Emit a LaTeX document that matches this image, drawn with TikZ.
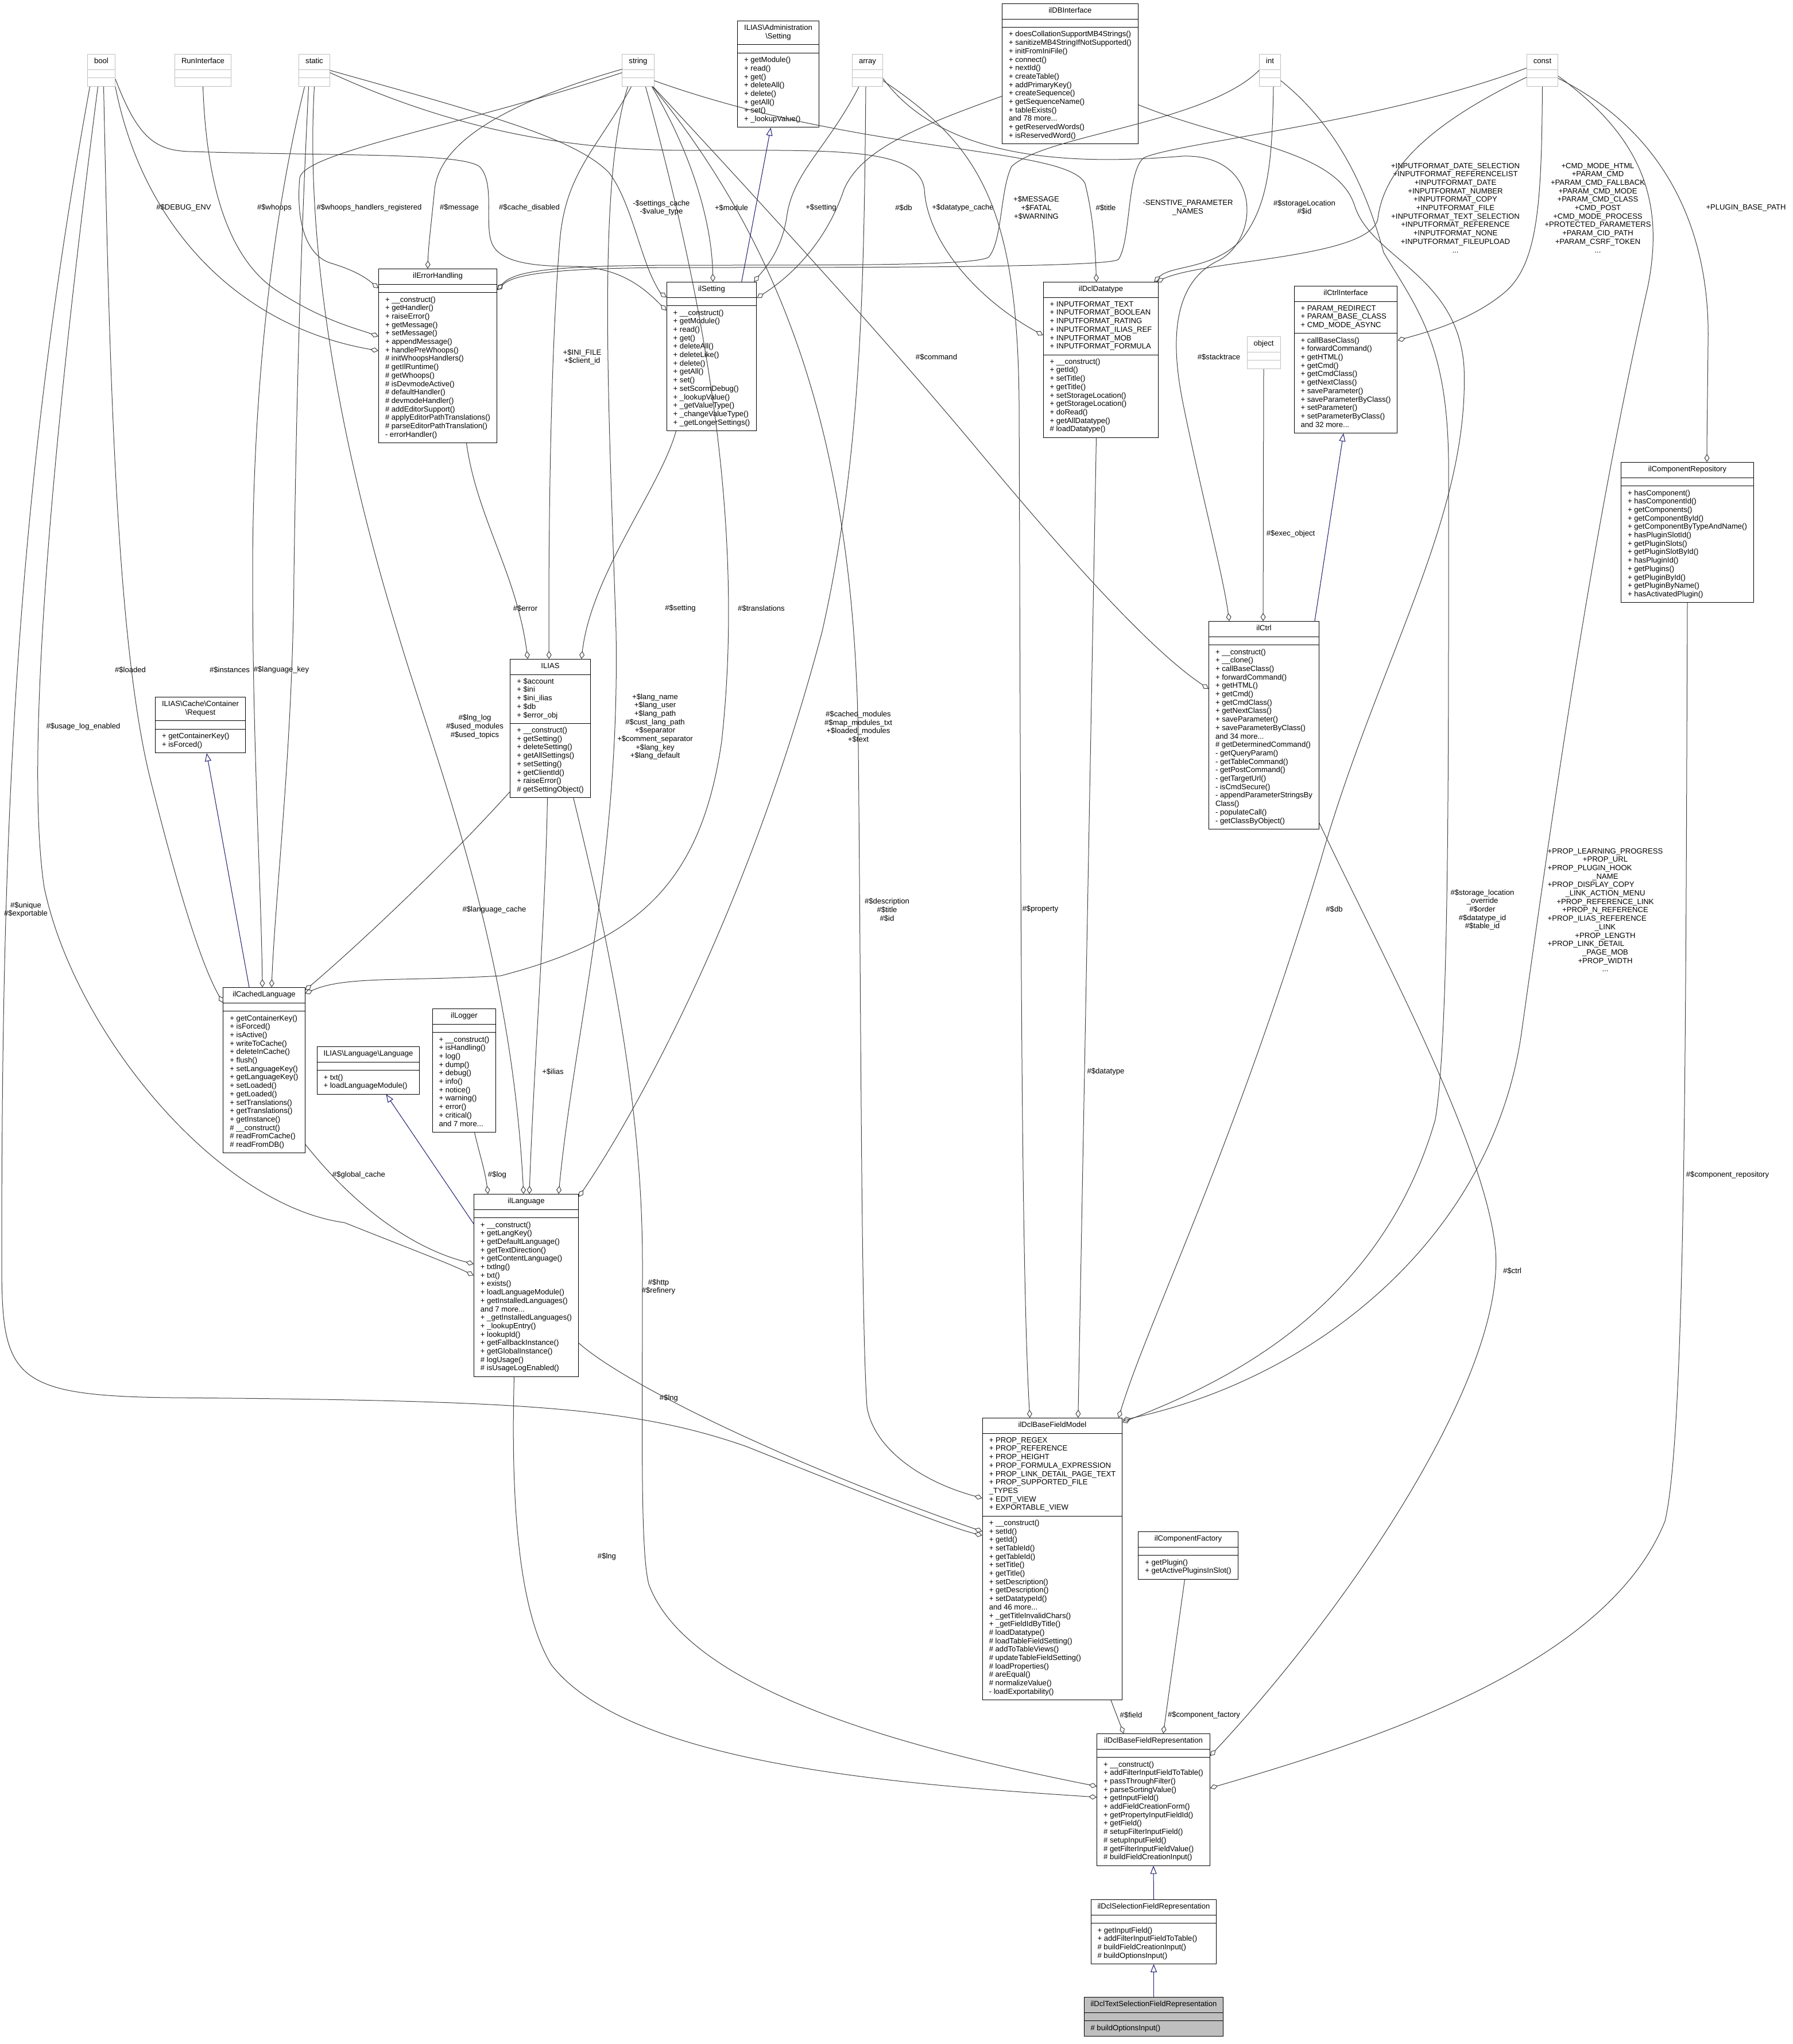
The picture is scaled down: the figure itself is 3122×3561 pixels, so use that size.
\documentclass[tikz,border=0pt]{standalone}
\usepackage{fontspec}
\setmainfont{Liberation Sans}
\usepackage{xcolor}
\definecolor{edgegrey}{RGB}{64,64,64}
\definecolor{typegrey}{RGB}{191,191,191}
\definecolor{maingrey}{RGB}{191,191,191}
\definecolor{inhblue}{RGB}{25,25,112}
\usepackage{tikz}
\usetikzlibrary{
    shapes.multipart,
    arrows.meta
}
\newcommand{\dxfont}{\fontsize{13.1}{14.7}\selectfont}
\newcommand{\members}[1]{\begin{tabular}{@{}l@{}}#1\end{tabular}}
\newcommand{\cname}[1]{\begin{tabular}{@{}c@{}}#1\end{tabular}}
\newcommand{\lline}[1]{\multicolumn{1}{@{}l@{}}{#1}}

\begin{document}
\begin{tikzpicture}[x=1pt, y=-1pt,
        cls/.style={rectangle split, rectangle split parts=3, rectangle split part align={center,left,left}, draw=black, fill=white, line width=1pt, inner xsep=11.5pt, inner ysep=5.4pt, anchor=north, font=\dxfont},
        typebox/.style={cls, draw=typegrey},
        mainbox/.style={cls, fill=maingrey},
        lab/.style={font=\dxfont, align=center, inner sep=0pt},
        use/.style={draw=edgegrey, line width=1pt, -{Diamond[open, length=14pt, width=9pt]}},
        inh/.style={draw=inhblue, line width=1pt, -{Triangle[open, length=14pt, width=11pt]}}
    ]
        \useasboundingbox (0,0) rectangle (3122,3561);

        \node[typebox] (bool) at (176.5,94) {\cname{bool}\nodepart{two}\members{}\nodepart{three}\members{}};
        \node[typebox] (runinterface) at (353.5,94) {\cname{RunInterface}\nodepart{two}\members{}\nodepart{three}\members{}};
        \node[typebox] (static) at (547.5,94) {\cname{static}\nodepart{two}\members{}\nodepart{three}\members{}};
        \node[typebox] (string) at (1111.5,94) {\cname{string}\nodepart{two}\members{}\nodepart{three}\members{}};
        \node[typebox] (array) at (1511,94) {\cname{array}\nodepart{two}\members{}\nodepart{three}\members{}};
        \node[typebox] (int) at (2212,94) {\cname{int}\nodepart{two}\members{}\nodepart{three}\members{}};
        \node[typebox] (const) at (2686.5,94) {\cname{const}\nodepart{two}\members{}\nodepart{three}\members{}};
        \node[typebox] (object) at (2201,586) {\cname{object}\nodepart{two}\members{}\nodepart{three}\members{}};

        \node[cls] (adminsetting) at (1355.5,36) {\cname{ILIAS\textbackslash Administration\\\textbackslash Setting}\nodepart{two}\members{}\nodepart{three}\members{+ getModule()\\+ read()\\+ get()\\+ deleteAll()\\+ delete()\\+ getAll()\\+ set()\\+ \_lookupValue()}};
        \node[cls] (dbinterface) at (1864,6) {\cname{ilDBInterface}\nodepart{two}\members{}\nodepart{three}\members{+ doesCollationSupportMB4Strings()\\+ sanitizeMB4StringIfNotSupported()\\+ initFromIniFile()\\+ connect()\\+ nextId()\\+ createTable()\\+ addPrimaryKey()\\+ createSequence()\\+ getSequenceName()\\+ tableExists()\\and 78 more...\\+ getReservedWords()\\+ isReservedWord()}};
        \node[cls] (errorhandling) at (762.5,468) {\cname{ilErrorHandling}\nodepart{two}\members{}\nodepart{three}\members{+ \_\_construct()\\+ getHandler()\\+ raiseError()\\+ getMessage()\\+ setMessage()\\+ appendMessage()\\+ handlePreWhoops()\\\# initWhoopsHandlers()\\\# getIlRuntime()\\\# getWhoops()\\\# isDevmodeActive()\\\# defaultHandler()\\\# devmodeHandler()\\\# addEditorSupport()\\\# applyEditorPathTranslations()\\\# parseEditorPathTranslation()\\- errorHandler()}};
        \node[cls] (setting) at (1239.5,491) {\cname{ilSetting}\nodepart{two}\members{}\nodepart{three}\members{+ \_\_construct()\\+ getModule()\\+ read()\\+ get()\\+ deleteAll()\\+ deleteLike()\\+ delete()\\+ getAll()\\+ set()\\+ setScormDebug()\\+ \_lookupValue()\\+ \_getValueType()\\+ \_changeValueType()\\+ \_getLongerSettings()}};
        \node[cls] (datatype) at (1917.5,491) {\cname{ilDclDatatype}\nodepart{two}\members{+ INPUTFORMAT\_TEXT\\+ INPUTFORMAT\_BOOLEAN\\+ INPUTFORMAT\_RATING\\+ INPUTFORMAT\_ILIAS\_REF\\+ INPUTFORMAT\_MOB\\+ INPUTFORMAT\_FORMULA}\nodepart{three}\members{+ \_\_construct()\\+ getId()\\+ setTitle()\\+ getTitle()\\+ setStorageLocation()\\+ getStorageLocation()\\+ doRead()\\+ getAllDatatype()\\\# loadDatatype()}};
        \node[cls] (ctrlinterface) at (2344,498) {\cname{ilCtrlInterface}\nodepart{two}\members{+ PARAM\_REDIRECT\\+ PARAM\_BASE\_CLASS\\+ CMD\_MODE\_ASYNC}\nodepart{three}\members{+ callBaseClass()\\+ forwardCommand()\\+ getHTML()\\+ getCmd()\\+ getCmdClass()\\+ getNextClass()\\+ saveParameter()\\+ saveParameterByClass()\\+ setParameter()\\+ setParameterByClass()\\and 32 more...}};
        \node[cls] (componentrepo) at (2939,805) {\cname{ilComponentRepository}\nodepart{two}\members{}\nodepart{three}\members{+ hasComponent()\\+ hasComponentId()\\+ getComponents()\\+ getComponentById()\\+ getComponentByTypeAndName()\\+ hasPluginSlotId()\\+ getPluginSlots()\\+ getPluginSlotById()\\+ hasPluginId()\\+ getPlugins()\\+ getPluginById()\\+ getPluginByName()\\+ hasActivatedPlugin()}};
        \node[cls] (ctrl) at (2201.5,1082) {\cname{ilCtrl}\nodepart{two}\members{}\nodepart{three}\members{+ \_\_construct()\\+ \_\_clone()\\+ callBaseClass()\\+ forwardCommand()\\+ getHTML()\\+ getCmd()\\+ getCmdClass()\\+ getNextClass()\\+ saveParameter()\\+ saveParameterByClass()\\and 34 more...\\\# getDeterminedCommand()\\- getQueryParam()\\- getTableCommand()\\- getPostCommand()\\- getTargetUrl()\\- isCmdSecure()\\- appendParameterStringsBy\\Class()\\- populateCall()\\- getClassByObject()}};
        \node[cls] (ilias) at (958.5,1148) {\cname{ILIAS}\nodepart{two}\members{+ \$account\\+ \$ini\\+ \$ini\_ilias\\+ \$db\\+ \$error\_obj}\nodepart{three}\members{+ \_\_construct()\\+ getSetting()\\+ deleteSetting()\\+ getAllSettings()\\+ setSetting()\\+ getClientId()\\+ raiseError()\\\# getSettingObject()}};
        \node[cls] (cacherequest) at (349,1214) {\cname{ILIAS\textbackslash Cache\textbackslash Container\\\textbackslash Request}\nodepart{two}\members{}\nodepart{three}\members{+ getContainerKey()\\+ isForced()}};
        \node[cls] (cachedlang) at (460,1720) {\cname{ilCachedLanguage}\nodepart{two}\members{}\nodepart{three}\members{+ getContainerKey()\\+ isForced()\\+ isActive()\\+ writeToCache()\\+ deleteInCache()\\+ flush()\\+ setLanguageKey()\\+ getLanguageKey()\\+ setLoaded()\\+ getLoaded()\\+ setTranslations()\\+ getTranslations()\\+ getInstance()\\\# \_\_construct()\\\# readFromCache()\\\# readFromDB()}};
        \node[cls] (langiface) at (641.5,1823) {\cname{ILIAS\textbackslash Language\textbackslash Language}\nodepart{two}\members{}\nodepart{three}\members{+ txt()\\+ loadLanguageModule()}};
        \node[cls] (logger) at (808.5,1757) {\cname{ilLogger}\nodepart{two}\members{}\nodepart{three}\members{+ \_\_construct()\\+ isHandling()\\+ log()\\+ dump()\\+ debug()\\+ info()\\+ notice()\\+ warning()\\+ error()\\+ critical()\\and 7 more...}};
        \node[cls] (language) at (916.5,2080) {\cname{ilLanguage}\nodepart{two}\members{}\nodepart{three}\members{+ \_\_construct()\\+ getLangKey()\\+ getDefaultLanguage()\\+ getTextDirection()\\+ getContentLanguage()\\+ txtlng()\\+ txt()\\+ exists()\\+ loadLanguageModule()\\+ getInstalledLanguages()\\and 7 more...\\+ \_getInstalledLanguages()\\+ \_lookupEntry()\\+ lookupId()\\+ getFallbackInstance()\\+ getGlobalInstance()\\\# logUsage()\\\# isUsageLogEnabled()}};
        \node[cls] (basefieldmodel) at (1833,2470) {\cname{ilDclBaseFieldModel}\nodepart{two}\members{+ PROP\_REGEX\\+ PROP\_REFERENCE\\+ PROP\_HEIGHT\\+ PROP\_FORMULA\_EXPRESSION\\+ PROP\_LINK\_DETAIL\_PAGE\_TEXT\\+ PROP\_SUPPORTED\_FILE\\\_TYPES\\+ EDIT\_VIEW\\+ EXPORTABLE\_VIEW}\nodepart{three}\members{+ \_\_construct()\\+ setId()\\+ getId()\\+ setTableId()\\+ getTableId()\\+ setTitle()\\+ getTitle()\\+ setDescription()\\+ getDescription()\\+ setDatatypeId()\\and 46 more...\\+ \_getTitleInvalidChars()\\+ \_getFieldIdByTitle()\\\# loadDatatype()\\\# loadTableFieldSetting()\\\# addToTableViews()\\\# updateTableFieldSetting()\\\# loadProperties()\\\# areEqual()\\\# normalizeValue()\\- loadExportability()}};
        \node[cls] (componentfactory) at (2069.5,2668) {\cname{ilComponentFactory}\nodepart{two}\members{}\nodepart{three}\members{+ getPlugin()\\+ getActivePluginsInSlot()}};
        \node[cls] (baserepr) at (2009,3020) {\cname{ilDclBaseFieldRepresentation}\nodepart{two}\members{}\nodepart{three}\members{+ \_\_construct()\\+ addFilterInputFieldToTable()\\+ passThroughFilter()\\+ parseSortingValue()\\+ getInputField()\\+ addFieldCreationForm()\\+ getPropertyInputFieldId()\\+ getField()\\\# setupFilterInputField()\\\# setupInputField()\\\# getFilterInputFieldValue()\\\# buildFieldCreationInput()}};
        \node[cls] (selectionrepr) at (2009.5,3309) {\cname{ilDclSelectionFieldRepresentation}\nodepart{two}\members{}\nodepart{three}\members{+ getInputField()\\+ addFilterInputFieldToTable()\\\# buildFieldCreationInput()\\\# buildOptionsInput()}};
        \node[mainbox] (textselrepr) at (2009.5,3479) {\cname{ilDclTextSelectionFieldRepresentation}\nodepart{two}\members{}\nodepart{three}\members{\# buildOptionsInput()}};

        \node[lab] (lDebugEnv) at (320,362) {\#\$DEBUG\_ENV};
        \node[lab] (lWhoops) at (478,362) {\#\$whoops};
        \node[lab] (lWhoopsReg) at (643,362) {\#\$whoops\_handlers\_registered};
        \node[lab] (lMessage) at (800,362) {\#\$message};
        \node[lab] (lCacheDisabled) at (922,362) {\#\$cache\_disabled};
        \node[lab] (lSettingsCache) at (1152,362) {-\$settings\_cache\\-\$value\_type};
        \node[lab] (lModule) at (1274,362) {+\$module};
        \node[lab] (lSettingArr) at (1430,362) {+\$setting};
        \node[lab] (lDbSetting) at (1574,362) {\#\$db};
        \node[lab] (lDatatypeCache) at (1677,362) {+\$datatype\_cache};
        \node[lab] (lMessageConst) at (1805,362) {+\$MESSAGE\\+\$FATAL\\+\$WARNING};
        \node[lab] (lTitle) at (1926,362) {\#\$title};
        \node[lab] (lSensitive) at (2069,362) {-SENSTIVE\_PARAMETER\\\_NAMES};
        \node[lab] (lStorage) at (2272,361) {\#\$storageLocation\\\#\$id};
        \node[lab] (lInputFormat) at (2535,362) {+INPUTFORMAT\_DATE\_SELECTION\\+INPUTFORMAT\_REFERENCELIST\\+INPUTFORMAT\_DATE\\+INPUTFORMAT\_NUMBER\\+INPUTFORMAT\_COPY\\+INPUTFORMAT\_FILE\\+INPUTFORMAT\_TEXT\_SELECTION\\+INPUTFORMAT\_REFERENCE\\+INPUTFORMAT\_NONE\\+INPUTFORMAT\_FILEUPLOAD\\...};
        \node[lab] (lCmdMode) at (2783,362) {+CMD\_MODE\_HTML\\+PARAM\_CMD\\+PARAM\_CMD\_FALLBACK\\+PARAM\_CMD\_MODE\\+PARAM\_CMD\_CLASS\\+CMD\_POST\\+CMD\_MODE\_PROCESS\\+PROTECTED\_PARAMETERS\\+PARAM\_CID\_PATH\\+PARAM\_CSRF\_TOKEN\\...};
        \node[lab] (lPluginPath) at (3041,362) {+PLUGIN\_BASE\_PATH};
        \node[lab] (lIniFile) at (1014,622) {+\$INI\_FILE\\+\$client\_id};
        \node[lab] (lCommand) at (1631,622) {\#\$command};
        \node[lab] (lStacktrace) at (2123,622) {\#\$stacktrace};
        \node[lab] (lExecObject) at (2248,930) {\#\$exec\_object};
        \node[lab] (lError) at (915,1060) {\#\$error};
        \node[lab] (lSettingObj) at (1185,1060) {\#\$setting};
        \node[lab] (lTranslations) at (1326,1060) {\#\$translations};
        \node[lab] (lLoaded) at (227,1167) {\#\$loaded};
        \node[lab] (lInstances) at (400,1167) {\#\$instances};
        \node[lab] (lLangKey) at (490,1167) {\#\$language\_key};
        \node[lab] (lUsageLog) at (145,1266) {\#\$usage\_log\_enabled};
        \node[lab] (lLngLog) at (827,1266) {\#\$lng\_log\\\#\$used\_modules\\\#\$used\_topics};
        \node[lab] (lLangName) at (1141,1266) {+\$lang\_name\\+\$lang\_user\\+\$lang\_path\\\#\$cust\_lang\_path\\+\$separator\\+\$comment\_separator\\+\$lang\_key\\+\$lang\_default};
        \node[lab] (lCachedModules) at (1495,1266) {\#\$cached\_modules\\\#\$map\_modules\_txt\\+\$loaded\_modules\\+\$text};
        \node[lab] (lUnique) at (45,1585) {\#\$unique\\\#\$exportable};
        \node[lab] (lLanguageCache) at (861,1585) {\#\$language\_cache};
        \node[lab] (lDescription) at (1545,1585) {\#\$description\\\#\$title\\\#\$id};
        \node[lab] (lProperty) at (1812,1584) {\#\$property};
        \node[lab] (lDbModel) at (2324,1584) {\#\$db};
        \node[lab] (lStorageOverride) at (2582,1585) {\#\$storage\_location\\\_override\\\#\$order\\\#\$datatype\_id\\\#\$table\_id};
        \node[lab] (lProp) at (2796,1587) {\cname{+PROP\_LEARNING\_PROGRESS\\+PROP\_URL\\\lline{+PROP\_PLUGIN\_HOOK}\\\_NAME\\\lline{+PROP\_DISPLAY\_COPY}\\\_LINK\_ACTION\_MENU\\+PROP\_REFERENCE\_LINK\\+PROP\_N\_REFERENCE\\\lline{+PROP\_ILIAS\_REFERENCE}\\\_LINK\\+PROP\_LENGTH\\\lline{+PROP\_LINK\_DETAIL}\\\_PAGE\_MOB\\+PROP\_WIDTH\\...}};
        \node[lab] (lDatatype) at (1926,1867) {\#\$datatype};
        \node[lab] (lIlias) at (963,1867) {+\$ilias};
        \node[lab] (lComponentRepo) at (3009,2047) {\#\$component\_repository};
        \node[lab] (lLog) at (866,2047) {\#\$log};
        \node[lab] (lGlobalCache) at (625,2047) {\#\$global\_cache};
        \node[lab] (lCtrl) at (2634,2214) {\#\$ctrl};
        \node[lab] (lHttp) at (1147,2242) {\#\$http\\\#\$refinery};
        \node[lab] (lLngModel) at (1165,2436) {\#\$lng};
        \node[lab] (lLngRepr) at (1057,2712) {\#\$lng};
        \node[lab] (lField) at (1970,2988) {\#\$field};
        \node[lab] (lComponentFactory) at (2097,2988) {\#\$component\_factory};

        \draw[use] ([yshift=2pt]string.west) .. controls (860,185) and (765,255) .. (757,330) .. controls (750,400) and (746,430) .. ([xshift=86pt]errorhandling.north west);
        \draw[use] ([yshift=-4pt]string.west) .. controls (800,220) and (530,265) .. (522,310) .. controls (515,390) and (535,445) .. (575,458) .. controls (615,470) and (635,482) .. ([yshift=-34pt]errorhandling.north west);
        \draw[use] (runinterface.south) .. controls (360,330) and (400,450) .. (480,505) .. controls (560,558) and (620,572) .. ([yshift=-118pt]errorhandling.north west);
        \draw[use] (bool.south east) .. controls (250,400) and (420,570) .. ([yshift=-143pt]errorhandling.north west);
        \draw[use] (int.west) .. controls (2100,215) and (1820,235) .. (1762,290) .. controls (1742,330) and (1746,420) .. (1722,448) .. controls (1700,462) and (1500,462) .. (1200,462) .. controls (960,462) and (895,472) .. ([yshift=-37pt]errorhandling.north east);
        \draw[use] ([yshift=4pt]const.west) .. controls (2400,215) and (2050,248) .. (1992,275) .. controls (1962,300) and (1970,420) .. (1948,452) .. controls (1930,466) and (1500,466) .. (1200,466) .. controls (960,466) and (895,478) .. ([yshift=-37pt]errorhandling.north east);

        \draw[use] (static.east) .. controls (850,200) and (1000,240) .. (1060,300) .. controls (1092,340) and (1110,420) .. (1130,470) .. controls (1140,495) and (1150,510) .. ([yshift=-27pt]setting.north west);
        \draw[use] ([yshift=-15pt]bool.east) .. controls (240,240) and (270,262) .. (330,264) .. controls (600,272) and (800,266) .. (835,290) .. controls (865,320) and (840,400) .. (860,430) .. controls (880,462) and (950,464) .. (1000,464) .. controls (1080,466) and (1120,500) .. ([yshift=-50pt]setting.north west);
        \draw[use] ([xshift=-4pt]string.south east) .. controls (1200,260) and (1240,380) .. ([xshift=81pt]setting.north west);
        \draw[use] ([xshift=-15pt]array.south) .. controls (1440,260) and (1380,300) .. (1370,380) .. controls (1360,440) and (1330,470) .. ([xshift=-5pt]setting.north east);
        \draw[use] ([yshift=-39pt]dbinterface.west) .. controls (1600,220) and (1500,260) .. (1470,330) .. controls (1440,420) and (1380,480) .. ([yshift=-28pt]setting.north east);
        \draw[inh] ([xshift=131pt]setting.north west) -- ([xshift=-13pt]adminsetting.south);

        \draw[use] ([yshift=-4pt]static.east) .. controls (800,230) and (1000,262) .. (1200,262) .. controls (1450,262) and (1600,255) .. (1610,330) .. controls (1615,420) and (1700,520) .. ([yshift=-93pt]datatype.north west);
        \draw[use] ([yshift=-18pt]string.east) .. controls (1500,270) and (1860,255) .. (1890,320) .. controls (1905,380) and (1908,440) .. ([xshift=93pt]datatype.north west);
        \draw[use] ([xshift=6pt]int.south) .. controls (2216,280) and (2210,360) .. (2160,420) .. controls (2110,470) and (2040,462) .. ([xshift=-8pt]datatype.north east);
        \draw[use] ([yshift=-12pt]const.west) .. controls (2480,220) and (2410,300) .. (2400,380) .. controls (2390,450) and (2100,452) .. ([xshift=-4pt]datatype.north east);
        \draw[use] ([xshift=-8pt]datatype.south) -- ([xshift=167pt]basefieldmodel.north west);

        \draw[use] (const.south) .. controls (2685,350) and (2680,460) .. (2620,510) .. controls (2560,560) and (2480,580) .. ([yshift=-95pt]ctrlinterface.north east);
        \draw[inh] ([xshift=-8pt]ctrl.north east) -- ([xshift=-4pt]ctrlinterface.south);
        \draw[use] (object.south) -- ([xshift=95pt]ctrl.north west);
        \draw[use] ([yshift=-14pt]array.east) .. controls (1650,290) and (1900,285) .. (2060,272) .. controls (2200,268) and (2195,420) .. (2120,455) .. controls (2040,495) and (2040,600) .. (2060,700) .. controls (2090,850) and (2130,1000) .. ([xshift=36pt]ctrl.north west);
        \draw[use] ([xshift=-2pt]string.south east) .. controls (1350,380) and (1550,600) .. (1700,780) .. controls (1850,960) and (2000,1130) .. ([yshift=-118pt]ctrl.north west);

        \draw[use] ([xshift=50pt]errorhandling.south) .. controls (830,900) and (900,1000) .. ([xshift=31pt]ilias.north west);
        \draw[use] ([xshift=-12pt]string.south) .. controls (1040,260) and (985,300) .. (975,420) .. controls (960,600) and (955,900) .. ([xshift=68pt]ilias.north west);
        \draw[use] ([xshift=-62pt]setting.south) .. controls (1150,850) and (1030,1000) .. ([xshift=-16pt]ilias.north east);

        \draw[use] ([xshift=-5pt]ilias.south) .. controls (950,1600) and (930,1850) .. ([xshift=97pt]language.north west);
        \draw[use] (static.south) .. controls (530,450) and (600,800) .. (692,1100) .. controls (760,1330) and (890,1650) .. ([xshift=87pt]language.north west);
        \draw[use] ([xshift=-18pt]string.south) .. controls (1040,320) and (1060,700) .. (1073,1100) .. controls (1080,1500) and (1000,1800) .. ([xshift=148pt]language.north west);
        \draw[use] ([xshift=-3pt]array.south) .. controls (1505,500) and (1500,800) .. (1432,1100) .. controls (1300,1600) and (1100,1950) .. ([yshift=-5pt]language.north east);
        \draw[use] ([xshift=18pt]logger.south) .. controls (835,2010) and (845,2040) .. ([xshift=25pt]language.north west);
        \draw[inh] ([yshift=-52pt]language.north west) -- ([xshift=31pt]langiface.south);

        \draw[inh] ([xshift=-26pt]cachedlang.north) -- ([xshift=11pt]cacherequest.south);
        \draw[use] ([xshift=-17pt]static.south) .. controls (470,400) and (440,700) .. (440,1000) .. controls (440,1300) and (455,1550) .. ([xshift=-3pt]cachedlang.north);
        \draw[use] ([xshift=-10pt]static.south) .. controls (520,500) and (515,800) .. (512,1000) .. controls (510,1300) and (480,1550) .. ([xshift=13pt]cachedlang.north);
        \draw[use] ([xshift=4pt]bool.south) .. controls (190,600) and (200,1100) .. (260,1350) .. controls (310,1550) and (350,1680) .. ([yshift=-27pt]cachedlang.north west);
        \draw[use] ([yshift=11pt]ilias.south west) .. controls (780,1500) and (620,1650) .. ([yshift=-5pt]cachedlang.north east);
        \draw[use] ([xshift=13pt]string.south) .. controls (1220,500) and (1300,900) .. (1257,1291) .. controls (1220,1550) and (1100,1640) .. (872,1700) .. controls (700,1710) and (600,1700) .. ([yshift=-11pt]cachedlang.north east);
        \draw[use] ([yshift=16pt]cachedlang.south east) .. controls (600,2080) and (700,2170) .. ([yshift=-122pt]language.north west);
        \draw[use] ([xshift=-6pt]bool.south) .. controls (100,700) and (40,1300) .. (77,1546) .. controls (130,1800) and (380,2100) .. (600,2130) .. controls (700,2170) and (780,2200) .. ([yshift=-142pt]language.north west);

        \draw[use] ([xshift=-20pt]bool.south) .. controls (20,900) and (3,1500) .. (3,2200) .. controls (3,2400) and (20,2432) .. (300,2435) .. controls (900,2440) and (1100,2450) .. (1300,2520) .. controls (1500,2600) and (1650,2660) .. ([yshift=-205pt]basefieldmodel.north west);
        \draw[use] ([yshift=-260pt]language.north east) .. controls (1100,2420) and (1400,2560) .. ([yshift=-198pt]basefieldmodel.north west);
        \draw[use] ([xshift=-3pt]string.south east) .. controls (1380,450) and (1490,800) .. (1495,1300) .. controls (1500,1800) and (1500,2300) .. (1510,2450) .. controls (1520,2520) and (1600,2580) .. ([yshift=-140pt]basefieldmodel.north west);
        \draw[use] ([yshift=-18pt]array.east) .. controls (1700,250) and (1772,350) .. (1775,700) .. controls (1778,1500) and (1778,2200) .. ([xshift=83pt]basefieldmodel.north west);
        \draw[use] ([yshift=-54pt]dbinterface.east) .. controls (2150,250) and (2330,260) .. (2360,360) .. controls (2390,450) and (2540,480) .. (2550,640) .. controls (2560,900) and (2400,1150) .. (2300,1500) .. controls (2150,2000) and (2000,2300) .. ([xshift=-7pt]basefieldmodel.north east);
        \draw[use] ([yshift=-18pt]int.east) .. controls (2330,220) and (2380,330) .. (2410,440) .. controls (2470,540) and (2520,600) .. (2523,800) .. controls (2523,1300) and (2525,1800) .. (2500,1950) .. controls (2400,2300) and (2100,2420) .. ([yshift=-8pt]basefieldmodel.north east);
        \draw[use] ([yshift=-10pt]const.east) .. controls (2860,240) and (2900,350) .. (2870,500) .. controls (2780,900) and (2720,1300) .. (2650,1800) .. controls (2600,2150) and (2300,2400) .. ([yshift=-4pt]basefieldmodel.north east);
        \draw[use] ([yshift=-14pt]const.east) .. controls (2900,230) and (2980,400) .. (2975,600) .. controls (2974,700) and (2973,760) .. ([xshift=34pt]componentrepo.north);

        \draw[use] ([xshift=102pt]basefieldmodel.south) -- ([xshift=47pt]baserepr.north west);
        \draw[use] ([xshift=-6pt]componentfactory.south) -- ([xshift=116pt]baserepr.north west);
        \draw[use] ([yshift=11pt]ctrl.south east) .. controls (2400,1650) and (2590,2000) .. (2605,2180) .. controls (2620,2400) and (2350,2800) .. ([yshift=-39pt]baserepr.north east);
        \draw[use] (componentrepo.south) .. controls (2936,1800) and (2936,2500) .. (2900,2650) .. controls (2800,2900) and (2400,3030) .. ([yshift=-95pt]baserepr.north east);
        \draw[use] ([xshift=-30pt]ilias.south east) .. controls (1050,1600) and (1119,1900) .. (1119,2200) .. controls (1119,2500) and (1115,2700) .. (1130,2760) .. controls (1200,2950) and (1600,3050) .. ([yshift=-92pt]baserepr.north west);
        \draw[use] ([xshift=-21pt]language.south) .. controls (890,2600) and (900,2800) .. (960,2900) .. controls (1100,3080) and (1600,3110) .. ([yshift=-111pt]baserepr.north west);
        \draw[inh] (selectionrepr.north) -- (baserepr.south);
        \draw[inh] (textselrepr.north) -- (selectionrepr.south);
    \end{tikzpicture}
\end{document}
